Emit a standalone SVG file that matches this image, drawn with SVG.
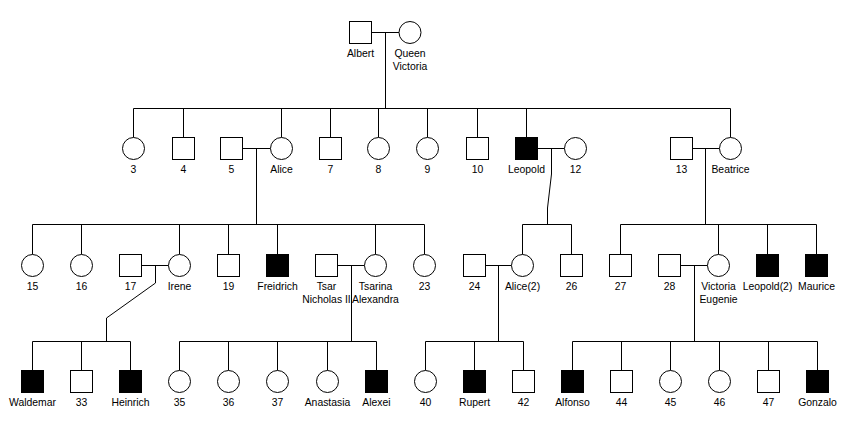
<svg xmlns="http://www.w3.org/2000/svg" width="850" height="430" viewBox="0 0 850 430">
<style>
.m{fill:#fff;stroke:#000;stroke-width:1}
.a{fill:#000;stroke:#000;stroke-width:1}
.f{fill:#fff;stroke:#000;stroke-width:1}
.c path{fill:none;stroke:#000;stroke-width:1}
text{font-family:"Liberation Sans",Arial,sans-serif;font-size:10.4px;fill:#000;text-anchor:middle}
</style>
<rect width="850" height="430" fill="#fff"/>
<g id="connectors" class="c">
<path d="M371.5 32.5H399M385.5 32.5V108.5"/>
<path d="M133.5 108.5H730.5M133.5 108.5V137.5M183.5 108.5V137.5M281.5 108.5V137.5M330.5 108.5V137.5M378.5 108.5V137.5M427.5 108.5V137.5M477.5 108.5V137.5M526.5 108.5V137.5M730.5 108.5V137.5"/>
<path d="M242.5 148.5H270.5M256.5 148.5V224.5"/>
<path d="M537.5 148.5H564.5M551.5 148.5V174L547.5 208V224.5"/>
<path d="M692.5 148.5H719.5M705.5 148.5V224.5"/>
<path d="M32.5 224.5H424.5M32.5 224.5V254.5M81.5 224.5V254.5M179.5 224.5V254.5M228.5 224.5V254.5M277.5 224.5V254.5M375.5 224.5V254.5M424.5 224.5V254.5"/>
<path d="M522.5 224.5H571.5M522.5 224.5V254.5M571.5 224.5V254.5"/>
<path d="M620.5 224.5H816.5M620.5 224.5V254.5M718.5 224.5V254.5M767.5 224.5V254.5M816.5 224.5V254.5"/>
<path d="M141.5 265.5H168.5M155.5 265.5V283L106.5 318V341.5"/>
<path d="M337.5 265.5H364.5M351.5 265.5V341.5"/>
<path d="M485.5 265.5H511.5M498.5 265.5V341.5"/>
<path d="M680.5 265.5H707.5M694.5 265.5V341.5"/>
<path d="M32.5 341.5H130.5M32.5 341.5V370.5M81.5 341.5V370.5M130.5 341.5V370.5"/>
<path d="M179.5 341.5H376.5M179.5 341.5V370.5M228.5 341.5V370.5M277.5 341.5V370.5M327.5 341.5V370.5M376.5 341.5V370.5"/>
<path d="M425.5 341.5H523.5M425.5 341.5V370.5M474.5 341.5V370.5M523.5 341.5V370.5"/>
<path d="M572.5 341.5H817.5M572.5 341.5V370.5M621.5 341.5V370.5M670.5 341.5V370.5M719.5 341.5V370.5M768.5 341.5V370.5M817.5 341.5V370.5"/>
</g>
<g id="albert"><rect class="m" x="349.5" y="21.5" width="22" height="22"/><text x="360.5" y="57.3">Albert</text></g>
<g id="queen-victoria"><circle class="f" cx="410" cy="32.5" r="11"/><text x="410" y="57.3">Queen</text><text x="410" y="70">Victoria</text></g>
<g id="n3"><circle class="f" cx="133.5" cy="148.5" r="11"/><text x="133.5" y="173.3">3</text></g>
<g id="n4"><rect class="m" x="172.5" y="137.5" width="22" height="22"/><text x="183.5" y="173.3">4</text></g>
<g id="n5"><rect class="m" x="220.5" y="137.5" width="22" height="22"/><text x="231.5" y="173.3">5</text></g>
<g id="alice"><circle class="f" cx="281.5" cy="148.5" r="11"/><text x="281.5" y="173.3">Alice</text></g>
<g id="n7"><rect class="m" x="319.5" y="137.5" width="22" height="22"/><text x="330.5" y="173.3">7</text></g>
<g id="n8"><circle class="f" cx="378.5" cy="148.5" r="11"/><text x="378.5" y="173.3">8</text></g>
<g id="n9"><circle class="f" cx="427.5" cy="148.5" r="11"/><text x="427.5" y="173.3">9</text></g>
<g id="n10"><rect class="m" x="466.5" y="137.5" width="22" height="22"/><text x="477.5" y="173.3">10</text></g>
<g id="leopold"><rect class="a" x="515.5" y="137.5" width="22" height="22"/><text x="526.5" y="173.3">Leopold</text></g>
<g id="n12"><circle class="f" cx="575.5" cy="148.5" r="11"/><text x="575.5" y="173.3">12</text></g>
<g id="n13"><rect class="m" x="670.5" y="137.5" width="22" height="22"/><text x="681.5" y="173.3">13</text></g>
<g id="beatrice"><circle class="f" cx="730.5" cy="148.5" r="11"/><text x="730.5" y="173.3">Beatrice</text></g>
<g id="n15"><circle class="f" cx="32.5" cy="265.5" r="11"/><text x="32.5" y="290">15</text></g>
<g id="n16"><circle class="f" cx="81.5" cy="265.5" r="11"/><text x="81.5" y="290">16</text></g>
<g id="n17"><rect class="m" x="119.5" y="254.5" width="22" height="22"/><text x="130.5" y="290">17</text></g>
<g id="irene"><circle class="f" cx="179.5" cy="265.5" r="11"/><text x="179.5" y="290">Irene</text></g>
<g id="n19"><rect class="m" x="217.5" y="254.5" width="22" height="22"/><text x="228.5" y="290">19</text></g>
<g id="freidrich"><rect class="a" x="266.5" y="254.5" width="22" height="22"/><text x="277.5" y="290">Freidrich</text></g>
<g id="tsar"><rect class="m" x="315.5" y="254.5" width="22" height="22"/><text x="326.5" y="290">Tsar</text><text x="326.5" y="303">Nicholas II</text></g>
<g id="tsarina"><circle class="f" cx="375.5" cy="265.5" r="11"/><text x="375.5" y="290">Tsarina</text><text x="375.5" y="303">Alexandra</text></g>
<g id="n23"><circle class="f" cx="424.5" cy="265.5" r="11"/><text x="424.5" y="290">23</text></g>
<g id="n24"><rect class="m" x="463.5" y="254.5" width="22" height="22"/><text x="474.5" y="290">24</text></g>
<g id="alice2"><circle class="f" cx="522.5" cy="265.5" r="11"/><text x="522.5" y="290">Alice(2)</text></g>
<g id="n26"><rect class="m" x="560.5" y="254.5" width="22" height="22"/><text x="571.5" y="290">26</text></g>
<g id="n27"><rect class="m" x="609.5" y="254.5" width="22" height="22"/><text x="620.5" y="290">27</text></g>
<g id="n28"><rect class="m" x="658.5" y="254.5" width="22" height="22"/><text x="669.5" y="290">28</text></g>
<g id="victoria-eugenie"><circle class="f" cx="718.5" cy="265.5" r="11"/><text x="718.5" y="290">Victoria</text><text x="718.5" y="303">Eugenie</text></g>
<g id="leopold2"><rect class="a" x="756.5" y="254.5" width="22" height="22"/><text x="767.5" y="290">Leopold(2)</text></g>
<g id="maurice"><rect class="a" x="805.5" y="254.5" width="22" height="22"/><text x="816.5" y="290">Maurice</text></g>
<g id="waldemar"><rect class="a" x="21.5" y="370.5" width="22" height="22"/><text x="32.5" y="405.5">Waldemar</text></g>
<g id="n33"><rect class="m" x="70.5" y="370.5" width="22" height="22"/><text x="81.5" y="405.5">33</text></g>
<g id="heinrich"><rect class="a" x="119.5" y="370.5" width="22" height="22"/><text x="130.5" y="405.5">Heinrich</text></g>
<g id="n35"><circle class="f" cx="179.5" cy="381.5" r="11"/><text x="179.5" y="405.5">35</text></g>
<g id="n36"><circle class="f" cx="228.5" cy="381.5" r="11"/><text x="228.5" y="405.5">36</text></g>
<g id="n37"><circle class="f" cx="277.5" cy="381.5" r="11"/><text x="277.5" y="405.5">37</text></g>
<g id="anastasia"><circle class="f" cx="327.5" cy="381.5" r="11"/><text x="327.5" y="405.5">Anastasia</text></g>
<g id="alexei"><rect class="a" x="365.5" y="370.5" width="22" height="22"/><text x="376.5" y="405.5">Alexei</text></g>
<g id="n40"><circle class="f" cx="425.5" cy="381.5" r="11"/><text x="425.5" y="405.5">40</text></g>
<g id="rupert"><rect class="a" x="463.5" y="370.5" width="22" height="22"/><text x="474.5" y="405.5">Rupert</text></g>
<g id="n42"><rect class="m" x="512.5" y="370.5" width="22" height="22"/><text x="523.5" y="405.5">42</text></g>
<g id="alfonso"><rect class="a" x="561.5" y="370.5" width="22" height="22"/><text x="572.5" y="405.5">Alfonso</text></g>
<g id="n44"><rect class="m" x="610.5" y="370.5" width="22" height="22"/><text x="621.5" y="405.5">44</text></g>
<g id="n45"><circle class="f" cx="670.5" cy="381.5" r="11"/><text x="670.5" y="405.5">45</text></g>
<g id="n46"><circle class="f" cx="719.5" cy="381.5" r="11"/><text x="719.5" y="405.5">46</text></g>
<g id="n47"><rect class="m" x="757.5" y="370.5" width="22" height="22"/><text x="768.5" y="405.5">47</text></g>
<g id="gonzalo"><rect class="a" x="806.5" y="370.5" width="22" height="22"/><text x="817.5" y="405.5">Gonzalo</text></g>
</svg>
